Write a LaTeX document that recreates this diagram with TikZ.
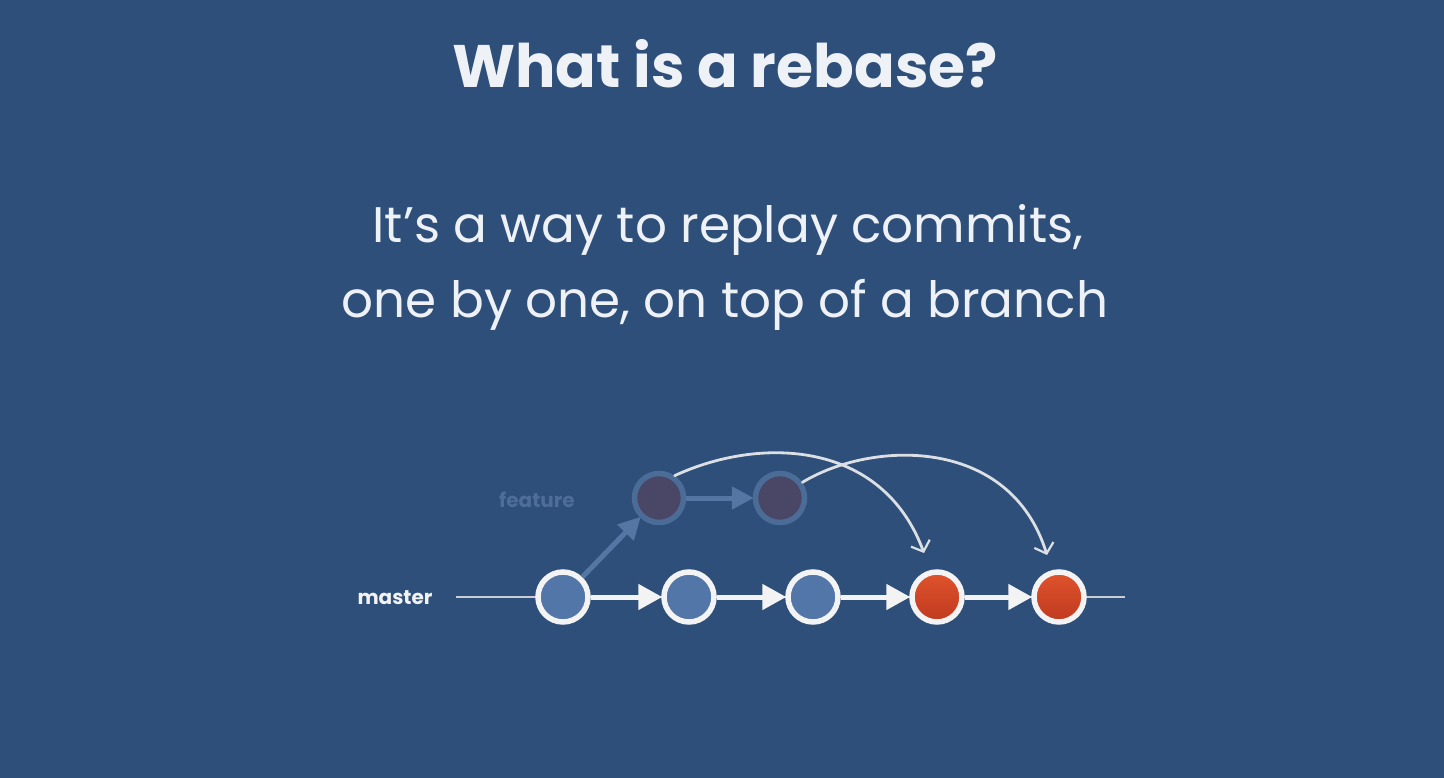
\documentclass[tikz,border=0pt]{standalone}
\usepackage{fontspec}
\setmainfont{Poppins}
\usetikzlibrary{arrows.meta}
\definecolor{bg}{HTML}{2D4F79}
\definecolor{txt}{HTML}{EEF1F5}
\definecolor{ring}{HTML}{F3F3F3}
\definecolor{bluefill}{HTML}{5276A8}
\definecolor{redtop}{HTML}{E0532C}
\definecolor{redbot}{HTML}{BF3A20}
\definecolor{featring}{HTML}{4C6C98}
\definecolor{featfill}{HTML}{4A4766}
\definecolor{featarrow}{HTML}{5576A3}
\definecolor{featlabel}{HTML}{4E6D99}
\definecolor{chalk}{HTML}{DCDFE3}
\definecolor{mline}{HTML}{C9CED6}
\tikzset{
  mcommit/.style={circle, draw=ring, line width=5.5pt, fill=bluefill, minimum size=50pt, inner sep=0pt},
  rcommit/.style={circle, draw=ring, line width=5.5pt, top color=redtop, bottom color=redbot, minimum size=50pt, inner sep=0pt},
  fcommit/.style={circle, draw=featring, line width=5.5pt, fill=featfill, minimum size=49pt, inner sep=0pt},
  marrow/.style={draw=ring, line width=5pt, -{Triangle[length=24pt, width=25pt]}, shorten >=-1pt},
  farrow/.style={draw=featarrow, line width=5pt, -{Triangle[length=22pt, width=22pt]}, shorten >=-1pt},
  chalkarrow/.style={draw=chalk, line width=2.8pt, line cap=round, -{Straight Barb[length=9pt, width=20pt, line width=2.2pt]}},
}
\begin{document}
\begin{tikzpicture}[x=1pt, y=-1pt]
\fill[bg] (0,0) rectangle (1444,778);
\useasboundingbox (0,0) rectangle (1444,778);

\node[text=txt, font=\fontsize{60}{70}\selectfont\bfseries, anchor=base] (title) at (725,88) {What is a rebase?};
\node[text=txt, font=\fontsize{50}{75}\selectfont, anchor=base] (sub1) at (728,243) {It’s a way to replay commits,};
\node[text=txt, font=\fontsize{50}{75}\selectfont, anchor=base] (sub2) at (725,318) {one by one, on top of a branch};

\coordinate (mstart) at (456,597);
\coordinate (mend) at (1125,597);
\draw[mline, line width=2.2pt] (mstart) -- (mend);

\node[text=ring, font=\fontsize{20}{24}\selectfont\bfseries, anchor=base] (mlabel) at (395,604) {master};
\node[text=featlabel, font=\fontsize{20}{24}\selectfont\bfseries, anchor=base] (flabel) at (537,507) {feature};

\node[mcommit] (m1) at (563,597) {};
\node[mcommit] (m2) at (689,597) {};
\node[mcommit] (m3) at (813,597) {};
\node[rcommit] (m4) at (937,597) {};
\node[rcommit] (m5) at (1059,597) {};

\node[fcommit] (f1) at (659,498) {};
\node[fcommit] (f2) at (780,498) {};

\draw[marrow] (m1) -- (m2);
\draw[marrow] (m2) -- (m3);
\draw[marrow] (m3) -- (m4);
\draw[marrow] (m4) -- (m5);

\draw[farrow] (m1) -- (f1);
\draw[farrow] (f1) -- (f2);

\draw[chalkarrow] (f1.55) .. controls (760,436) and (882,440) .. (924,553);
\draw[chalkarrow] (f2.35) .. controls (872,440) and (1010,436) .. (1047,555);
\end{tikzpicture}
\end{document}
